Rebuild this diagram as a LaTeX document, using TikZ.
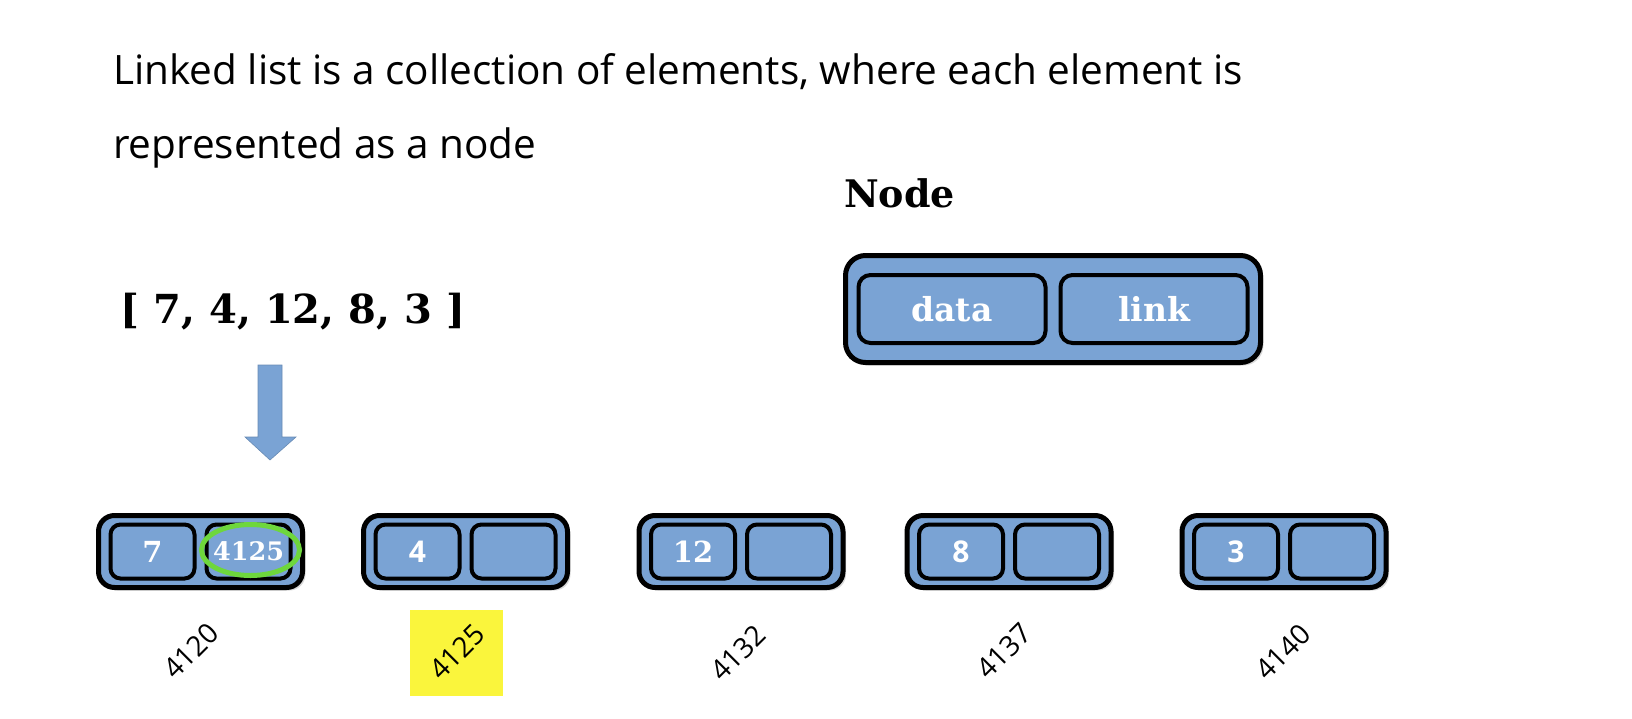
\documentclass[tikz,border=0pt]{standalone}
\usepackage{fontspec}
\setmainfont{Open Sans}
\newfontfamily\slab{DejaVu Serif}
\newfontfamily\osans{Open Sans}
\usetikzlibrary{shadows}
\definecolor{nodeblue}{RGB}{122,163,212}
\definecolor{ringgreen}{RGB}{110,215,60}
\definecolor{markyellow}{RGB}{250,245,60}
\begin{document}
\begin{tikzpicture}[x=1pt,y=-1pt,
  outerbox/.style={draw=black, line width=5pt, fill=nodeblue, rounded corners=16pt,
    minimum width=204pt, minimum height=72pt, inner sep=0pt,
    drop shadow={opacity=0.3, shadow xshift=3pt, shadow yshift=-3pt}},
  bigbox/.style={outerbox, minimum width=415pt, minimum height=107pt, rounded corners=20pt},
  cellbox/.style={draw=black, line width=4pt, fill=nodeblue, rounded corners=10pt,
    minimum width=84pt, minimum height=54pt, inner sep=0pt, text=white},
  bigcell/.style={cellbox, minimum width=187pt, minimum height=68pt, rounded corners=12pt},
  serifnum/.style={font=\slab\bfseries\fontsize{29}{31}\selectfont},
  sansnum/.style={font=\osans\bfseries\fontsize{30}{32}\selectfont},
  addr/.style={font=\osans\fontsize{28}{30}\selectfont, rotate=45, inner sep=0pt},
  title/.style={font=\fontsize{40.5}{44}\selectfont, anchor=base west, inner sep=0pt},
]
\useasboundingbox (0,0) rectangle (1632,718);

% heading text
\node[title] (line1) at (113,84) {Linked list is a collection of elements, where each element is};
\node[title] (line2) at (113,158) {represented as a node};

% Node legend
\node[font=\slab\bfseries\fontsize{38}{40}\selectfont, anchor=base west, inner sep=0pt] (nodelabel) at (844,207) {Node};
\node[bigbox] (big) at (1053,309) {};
\node[bigcell, font=\slab\bfseries\fontsize{33}{35}\selectfont] (data) at ([xshift=-101pt]big.center) {data};
\node[bigcell, font=\slab\bfseries\fontsize{33}{35}\selectfont] (link) at ([xshift=101pt]big.center) {link};

% array
\node[font=\slab\bfseries\fontsize{40}{42}\selectfont, anchor=base, inner sep=0pt] (arr) at (293,323) {[ 7, 4, 12, 8, 3 ]};

% down arrow
\fill[nodeblue, draw=nodeblue!85!black, line width=0.6pt]
  (258,365) -- (282,365) -- (282,437) -- (296,437) -- (270,460) -- (245,437) -- (258,437) -- cycle;

% list nodes
\node[outerbox] (n1) at (200.5,551.5) {};
\node[outerbox] (n2) at (465.5,551.5) {};
\node[outerbox] (n3) at (741,551.5) {};
\node[outerbox] (n4) at (1009,551.5) {};
\node[outerbox] (n5) at (1284,551.5) {};

\node[cellbox, serifnum] (n1d) at ([xshift=-48pt]n1.center) {7};
\node[cellbox, font=\slab\bfseries\fontsize{25.5}{27}\selectfont] (n1l) at ([xshift=48pt]n1.center) {4125};
\node[cellbox, sansnum] (n2d) at ([xshift=-48pt]n2.center) {4};
\node[cellbox] (n2l) at ([xshift=48pt]n2.center) {};
\node[cellbox, serifnum] (n3d) at ([xshift=-48pt]n3.center) {12};
\node[cellbox] (n3l) at ([xshift=48pt]n3.center) {};
\node[cellbox, sansnum] (n4d) at ([xshift=-48pt]n4.center) {8};
\node[cellbox] (n4l) at ([xshift=48pt]n4.center) {};
\node[cellbox, sansnum] (n5d) at ([xshift=-48pt]n5.center) {3};
\node[cellbox] (n5l) at ([xshift=48pt]n5.center) {};

% green ring
\draw[ringgreen, line width=5pt] (250.5,550) ellipse [x radius=49pt, y radius=25.5pt];

% addresses
\fill[markyellow] (410,610) rectangle (503,696);
\node[addr] (a1) at (191,651) {4120};
\node[addr] (a2) at (457,652) {4125};
\node[addr] (a3) at (738,653) {4132};
\node[addr] (a4) at (1004,651) {4137};
\node[addr] (a5) at (1283,652) {4140};
\end{tikzpicture}
\end{document}
